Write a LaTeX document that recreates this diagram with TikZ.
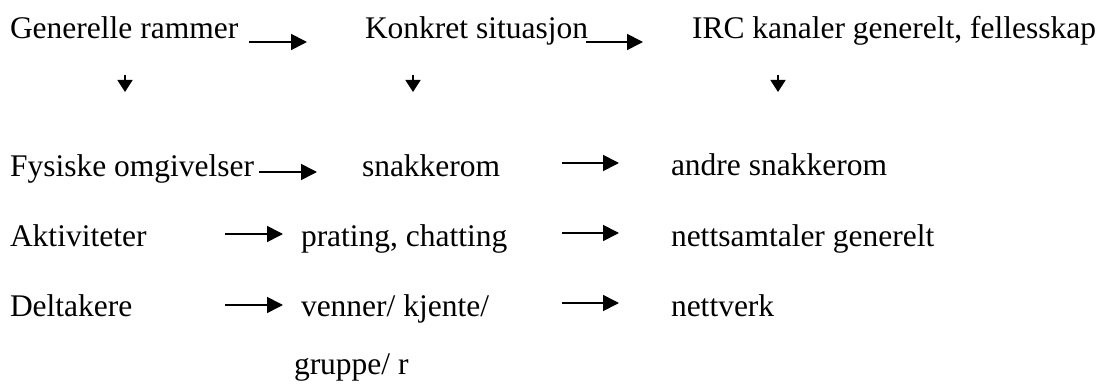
\documentclass[tikz,border=0pt]{standalone}
\usepackage{fontspec}
\setmainfont{Liberation Serif}
\usetikzlibrary{arrows.meta}
\begin{document}
\begin{tikzpicture}[x=1pt,y=-1pt,
  lbl/.style={anchor=base west,inner sep=0pt,outer sep=0pt,font=\fontsize{31.5}{36}\selectfont},
  harr/.style={line width=1.7pt,-{Triangle[length=16pt,width=16pt]}},
  varr/.style={line width=1.7pt,-{Triangle[length=12pt,width=15pt]}}]
\useasboundingbox (0,0) rectangle (1107,387);
% row 1
\node[lbl] (gr) at (10,39) {Generelle rammer};
\node[lbl] (ks) at (365,39) {Konkret situasjon};
\node[lbl] (irc) at (692,39) {IRC kanaler generelt, fellesskap};
% row 2
\node[lbl] (fo) at (10,177) {Fysiske omgivelser};
\node[lbl] (sr) at (362,177) {snakkerom};
\node[lbl] (as) at (671,176) {andre snakkerom};
% row 3
\node[lbl] (ak) at (10,246) {Aktiviteter};
\node[lbl] (pc) at (301,246) {prating, chatting};
\node[lbl] (ns) at (671,246) {nettsamtaler generelt};
% row 4
\node[lbl] (dt) at (10,316) {Deltakere};
\node[lbl] (vk) at (301,316) {venner/ kjente/};
\node[lbl] (nv) at (671,316) {nettverk};
% row 5
\node[lbl] (gp) at (294,374) {gruppe/ r};
% arrow end points
\coordinate (h1a) at (249,42);  \coordinate (h1b) at (307,42);
\coordinate (h2a) at (586,42);  \coordinate (h2b) at (643,42);
\coordinate (d1a) at (125,75);  \coordinate (d1b) at (125,92);
\coordinate (d2a) at (413,75);  \coordinate (d2b) at (413,92);
\coordinate (d3a) at (778,75);  \coordinate (d3b) at (778,92);
\coordinate (f1a) at (259,172); \coordinate (f1b) at (317,172);
\coordinate (f2a) at (562,163); \coordinate (f2b) at (619,163);
\coordinate (a1a) at (225,234); \coordinate (a1b) at (283,234);
\coordinate (a2a) at (562,233); \coordinate (a2b) at (619,233);
\coordinate (t1a) at (225,305); \coordinate (t1b) at (283,305);
\coordinate (t2a) at (562,303); \coordinate (t2b) at (619,303);
% arrows
\draw[harr] (h1a) -- (h1b);
\draw[harr] (h2a) -- (h2b);
\draw[varr] (d1a) -- (d1b);
\draw[varr] (d2a) -- (d2b);
\draw[varr] (d3a) -- (d3b);
\draw[harr] (f1a) -- (f1b);
\draw[harr] (f2a) -- (f2b);
\draw[harr] (a1a) -- (a1b);
\draw[harr] (a2a) -- (a2b);
\draw[harr] (t1a) -- (t1b);
\draw[harr] (t2a) -- (t2b);
\end{tikzpicture}
\end{document}
